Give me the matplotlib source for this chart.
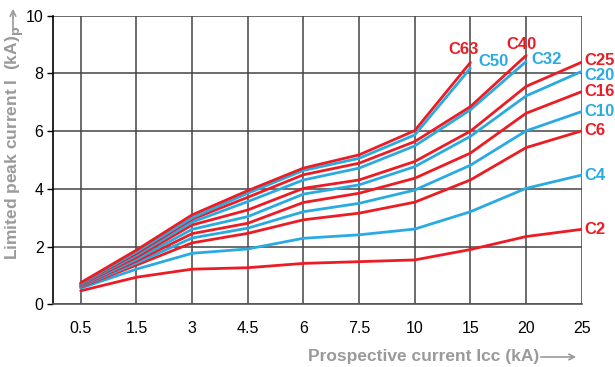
import matplotlib.pyplot as plt

plt.rcParams['font.family'] = ['Liberation Sans', 'DejaVu Sans']

# categories on the x axis (equally spaced)
x_labels = ['0.5', '1.5', '3', '4.5', '6', '7.5', '10', '15', '20', '25']

# limited peak current per rating (kA)
c2 = [0.47, 0.94, 1.22, 1.27, 1.42, 1.48, 1.54, 1.90, 2.35, 2.60]
c4 = [0.56, 1.22, 1.77, 1.92, 2.29, 2.41, 2.61, 3.21, 4.02, 4.48]
c6 = [0.60, 1.36, 2.13, 2.46, 2.93, 3.16, 3.54, 4.31, 5.43, 6.01]
c10 = [0.62, 1.43, 2.30, 2.64, 3.21, 3.50, 3.96, 4.82, 6.01, 6.68]
c16 = [0.64, 1.50, 2.45, 2.81, 3.53, 3.85, 4.37, 5.24, 6.62, 7.37]
c20 = [0.66, 1.56, 2.60, 3.04, 3.82, 4.14, 4.77, 5.82, 7.22, 8.07]
c25 = [0.68, 1.63, 2.75, 3.27, 4.02, 4.31, 4.95, 6.00, 7.55, 8.39]
c32 = [0.70, 1.70, 2.85, 3.56, 4.31, 4.72, 5.49, 6.74, 8.41]
c40 = [0.72, 1.76, 2.95, 3.71, 4.49, 4.89, 5.64, 6.85, 8.62]
c50 = [0.73, 1.82, 3.00, 3.85, 4.64, 5.06, 5.87, 8.18]
c63 = [0.75, 1.88, 3.10, 3.94, 4.72, 5.18, 6.02, 8.38]

RED = '#ec1c24'
BLUE = '#29abe2'
GREY = '#9a9a9a'

series = [
    ('C2', c2, RED), ('C4', c4, BLUE), ('C6', c6, RED), ('C10', c10, BLUE),
    ('C16', c16, RED), ('C20', c20, BLUE), ('C25', c25, RED),
    ('C32', c32, BLUE), ('C40', c40, RED), ('C50', c50, BLUE), ('C63', c63, RED),
]

# label offsets in pixels from the end point of each curve
offsets = {
    'C63': (-7, 13, 'center'), 'C50': (8, 7, 'left'),
    'C40': (-5, 11, 'center'), 'C32': (5, 2, 'left'),
    'C25': (3, 2, 'left'), 'C20': (3, -4, 'left'),
}

fig = plt.figure(figsize=(6.15, 3.67), dpi=100)
ax = fig.add_axes([0.0867, 0.1706, 0.8592, 0.7866])

for name, vals, col in series:
    xs = list(range(len(vals)))
    ax.plot(xs, vals, color=col, lw=2.0, solid_capstyle='round', zorder=3)
    dx, dy, ha = offsets.get(name, (3, 0, 'left'))
    ax.annotate(name, (xs[-1], vals[-1]), xytext=(dx, dy),
                textcoords='offset pixels', ha=ha, va='center',
                color=col, fontsize=12, fontweight='bold',
                annotation_clip=False)

ax.set_xlim(-0.492, 9)
ax.set_ylim(0, 10)
ax.set_xticks(range(len(x_labels)))
ax.set_xticklabels(x_labels)
ax.set_yticks([0, 2, 4, 6, 8, 10])
ax.tick_params(axis='x', length=0, pad=12, labelsize=11.5)
ax.tick_params(axis='y', length=4, width=1, direction='out', labelsize=11.5, pad=3)

ax.grid(True, color='#444444', lw=1.1, zorder=1)
for s in ['top', 'right']:
    ax.spines[s].set_visible(False)
ax.spines['left'].set_linewidth(1.2)
ax.spines['bottom'].set_linewidth(1.2)
ax.spines['bottom'].set_color('#555555')

# axis titles with arrows
fig.text(308 / 615, 1 - 357 / 367, 'Prospective current Icc (kA)', ha='left',
         va='center', color=GREY, fontsize=12.5, fontweight='bold')
ax.annotate('', xy=(579, 367 - 357), xytext=(538, 367 - 357),
            xycoords='figure pixels', textcoords='figure pixels',
            arrowprops=dict(arrowstyle='->', color=GREY, lw=1.2))

fig.text(15 / 615, 1 - 143 / 367, r'Limited peak current I  (kA)$_\mathbf{p}$',
         rotation=90, ha='center', va='center', color=GREY,
         fontsize=12.5, fontweight='bold')
ax.annotate('', xy=(13, 367 - 6), xytext=(13, 367 - 32),
            xycoords='figure pixels', textcoords='figure pixels',
            arrowprops=dict(arrowstyle='->', color=GREY, lw=1.2))

fig.savefig('out.png', dpi=100)
